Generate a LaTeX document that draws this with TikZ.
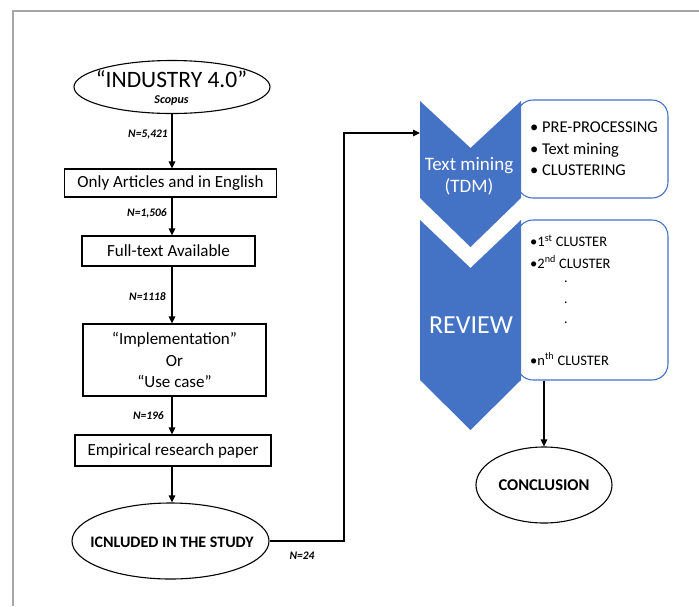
\documentclass[tikz,border=0pt]{standalone}
\usepackage{fontspec}
\setmainfont{Carlito}
\usetikzlibrary{shapes.geometric,arrows.meta}
\definecolor{chevblue}{HTML}{4472C4}
\definecolor{frame}{HTML}{A6A6A6}
\begin{document}
\begin{tikzpicture}[x=1pt,y=-1pt,
  box/.style={draw, line width=1.1pt, inner sep=0pt, align=center, font=\fontsize{17}{21.5}\selectfont},
  ell/.style={draw, ellipse, line width=1.1pt, inner sep=0pt},
  arr/.style={-{Triangle[length=7pt,width=6.5pt]}, line width=1.1pt},
  nlab/.style={font=\bfseries\itshape\fontsize{11.5}{14}\selectfont, anchor=east, inner sep=0pt},
  rbox/.style={draw=chevblue, line width=1.1pt, rounded corners=16pt, fill=white, inner sep=0pt},
  chev/.style={fill=chevblue},
  lst/.style={anchor=west, inner sep=0pt, align=left}]
\useasboundingbox (0,0) rectangle (699,606);
\fill[white] (0,0) rectangle (699,606);
\draw[frame, line width=2pt] (13,606) -- (13,10.5) -- (699,10.5);

% left column
\node[ell, minimum width=196pt, minimum height=53pt] (ind) at (172,87) {};
\node[align=center, inner sep=0pt, font=\fontsize{23.5}{26}\selectfont] (indt) at (171.5,87.5) {“INDUSTRY 4.0”\\[-10pt]{\bfseries\itshape\fontsize{12}{14}\selectfont Scopus}};

\node[box, minimum width=212pt, minimum height=28pt] (b1) at (170.5,183) {Only Articles and in English};
\node[box, minimum width=173pt, minimum height=30pt] (b2) at (168.5,251) {Full-text Available};
\node[box, minimum width=183pt, minimum height=72pt] (b3) at (174.5,360) {“Implementation”\\Or\\“Use case”};
\node[box, minimum width=196pt, minimum height=31pt] (b4) at (173,450.5) {Empirical research paper};
\node[ell, minimum width=197pt, minimum height=76pt] (inc) at (170.5,541) {};
\node[font=\bfseries\fontsize{16}{20}\selectfont, inner sep=0pt] (inct) at (172,542) {ICNLUDED IN THE STUDY};

\draw[arr] (ind.south) -- (b1.north -| ind.south);
\draw[arr] (b1.south -| ind.south) -- (b2.north -| ind.south);
\draw[arr] (b2.south -| ind.south) -- (b3.north -| ind.south);
\draw[arr] (b3.south -| ind.south) -- (b4.north -| ind.south);
\draw[arr] (b4.south -| ind.south) -- (inc.north -| ind.south);

\node[nlab] (n1) at (168,135) {N=5,421};
\node[nlab] (n2) at (167,213) {N=1,506};
\node[nlab] (n3) at (166,297) {N=1118};
\node[nlab] (n4) at (164,416) {N=196};
\node[font=\bfseries\itshape\fontsize{11.5}{14}\selectfont, inner sep=0pt] (n5) at (302,556) {N=24};

% right column
\node[rbox, minimum width=151pt, minimum height=98pt] (boxA) at (592.5,149) {};
\node[rbox, minimum width=151pt, minimum height=160pt] (boxB) at (592.5,300) {};
\fill[chev] (420,101) -- (470.5,148) -- (521,101) -- (521,198) -- (470.5,247) -- (420,198) -- cycle;
\fill[chev] (420,220) -- (470.5,268) -- (521,220) -- (521,380) -- (470.5,430) -- (420,380) -- cycle;
\node[white, align=center, inner sep=0pt, font=\fontsize{19}{22}\selectfont] (tdm) at (469,176) {Text mining\\(TDM)};
\node[white, inner sep=0pt, font=\fontsize{26}{28}\selectfont] (rev) at (471,325) {REVIEW};

\node[lst, font=\fontsize{16.5}{21.5}\selectfont] (la) at (530,149) {• PRE-PROCESSING\\• Text mining\\• CLUSTERING};
\node[lst, font=\fontsize{14.5}{16}\selectfont] (c1) at (530,241) {•1\textsuperscript{st} CLUSTER};
\node[lst, font=\fontsize{14.5}{16}\selectfont] (c2) at (530,262) {•2\textsuperscript{nd} CLUSTER};
\node[inner sep=0pt, font=\fontsize{14}{16}\selectfont] (d1) at (566,282) {.};
\node[inner sep=0pt, font=\fontsize{14}{16}\selectfont] (d2) at (566,303) {.};
\node[inner sep=0pt, font=\fontsize{14}{16}\selectfont] (d3) at (566,323) {.};
\node[lst, font=\fontsize{14.5}{16}\selectfont] (c3) at (530,359) {•n\textsuperscript{th} CLUSTER};

\node[ell, minimum width=136pt, minimum height=76pt, font=\bfseries\fontsize{16.5}{19}\selectfont] (concl) at (544,485) {CONCLUSION};

\coordinate (tdmin) at (420,133);
\coordinate (turn) at (344,133);
\draw[arr] (inc.east) -| (turn) -- (tdmin);
\draw[arr] (boxB.south -| concl.north) -- (concl.north);
\end{tikzpicture}
\end{document}
